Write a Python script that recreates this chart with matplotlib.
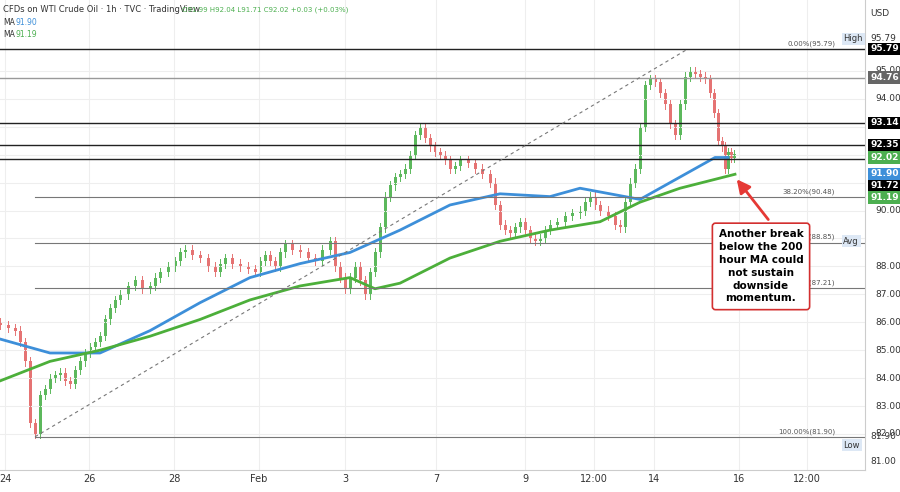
import matplotlib
matplotlib.use("Agg")
import matplotlib.pyplot as plt
import matplotlib.transforms as mtrans

# time positions (chart units) and closing prices
t = [0,8,15,20,25,30,35,40,45,50,55,60,65,70,75,80,85,90,95,100,105,110,115,120,128,135,142,150,155,160,168,175,180,185,192,200,208,215,220,225,232,240,248,255,260,265,270,275,280,285,292,300,308,315,322,330,335,340,345,350,355,360,365,370,375,380,385,390,395,400,405,410,415,420,425,430,435,440,445,450,455,460,468,475,482,490,495,500,505,510,515,520,525,530,535,540,545,550,557,565,572,580,585,590,595,600,608,615,620,625,630,635,640,645,650,655,660,665,670,675,680,685,690,695,700,705,710,714,718,722,725,728,731,734]
close = [85.9,85.8,85.7,85.3,84.6,82.4,82.0,83.4,83.6,84.0,84.1,84.2,83.9,83.8,84.3,84.6,84.9,85.1,85.3,85.5,86.1,86.5,86.8,87.0,87.3,87.5,87.2,87.3,87.6,87.8,88.0,88.2,88.5,88.6,88.4,88.3,88.0,87.8,88.1,88.3,88.1,88.0,87.9,87.8,88.2,88.4,88.2,88.0,88.5,88.8,88.6,88.5,88.3,88.2,88.6,88.9,88.0,87.6,87.2,87.6,88.0,87.5,87.0,87.8,88.5,89.4,90.5,90.9,91.2,91.3,91.5,92.0,92.7,93.0,92.6,92.3,92.1,92.0,91.8,91.5,91.6,91.8,91.7,91.5,91.3,91.0,90.2,89.5,89.3,89.2,89.4,89.6,89.3,89.0,88.9,89.0,89.3,89.5,89.6,89.8,89.9,90.0,90.3,90.5,90.2,90.0,89.8,89.5,89.4,90.3,91.0,91.5,93.0,94.5,94.7,94.6,94.2,93.8,93.1,92.7,93.8,94.8,95.0,94.9,94.8,94.7,94.2,93.5,92.5,92.3,91.5,92.1,91.9,92.02]
ma_t = [0,50,100,150,200,250,300,350,400,450,500,550,580,610,640,660,690,715,728]
ma_fast = [85.4,84.9,84.9,85.7,86.7,87.6,88.1,88.5,89.3,90.2,90.6,90.5,90.8,90.6,90.4,90.8,91.4,91.9,91.9]
ma2_t = [0,50,100,150,200,250,300,350,375,400,450,500,550,600,640,680,735]
ma_slow = [83.9,84.6,85.0,85.5,86.1,86.8,87.3,87.6,87.2,87.4,88.3,88.9,89.3,89.6,90.3,90.8,91.3]
xtick_pos = [5,89,174,259,345,436,525,594,654,739,807]
xtick_lab = ["24","26","28","Feb","3","7","9","12:00","14","16","12:00"]
ytick_vals = [82,83,84,85,86,87,88,89,90,91,92,93,94,95]
ytick_shown = [82,83,84,85,86,87,88,90,94,95]

fig = plt.figure(figsize=(9,4.92), dpi=100)
ax = fig.add_axes([0, 22/492, 865/900, 470/492])
ax.set_xlim(0, 865)
ax.set_ylim(80.71, 97.54)
for s in ax.spines.values():
    s.set_visible(False)
ax.spines['right'].set_visible(True); ax.spines['right'].set_color('#cccccc')
ax.spines['bottom'].set_visible(True); ax.spines['bottom'].set_color('#cccccc')
ax.set_xticks(xtick_pos); ax.set_xticklabels(xtick_lab, fontsize=7, color='#333')
ax.set_yticks(ytick_vals); ax.set_yticklabels([])
ax.tick_params(length=0, pad=3)
ax.grid(color='#eeeeee', lw=0.8)

prev = close[0] + 0.1
for x, c in zip(t, close):
    o = prev
    col = '#5cb85c' if c >= o else '#e57373'
    hi, lo = max(o, c) + 0.15, min(o, c) - 0.15
    ax.plot([x, x], [lo, hi], color=col, lw=0.7)
    ax.bar(x, max(abs(c - o), 0.05), bottom=min(o, c), width=3, color=col, lw=0)
    prev = c

ax.plot(ma_t, ma_fast, color='#3d8fd9', lw=2)
ax.plot(ma2_t, ma_slow, color='#4caf3a', lw=2)

for y, c in [(95.79,'#222'),(94.76,'#999'),(93.14,'#222'),(92.35,'#222'),(91.85,'#222')]:
    ax.axhline(y, color=c, lw=1)
for y, lab in [(90.48,'38.20%(90.48)'),(88.85,'50.00%(88.85)'),(87.21,'61.80%(87.21)'),(81.90,'100.00%(81.90)')]:
    ax.plot([35, 865], [y, y], color='#777', lw=0.8)
    ax.text(835, y+0.08, lab, fontsize=5, color='#555', ha='right', va='bottom')
ax.text(835, 95.87, '0.00%(95.79)', fontsize=5, color='#555', ha='right', va='bottom')
ax.plot([35, 688], [81.9, 95.79], color='#777', lw=0.8, ls=(0,(3,3)))

tr = mtrans.blended_transform_factory(ax.transAxes, ax.transData)
for v in ytick_shown:
    ax.text(1.012, v, f"{v:.2f}", transform=tr, fontsize=6.5, color='#333', va='center', clip_on=False)
for v, lab, bg in [(95.79,'95.79','black'),(94.76,'94.76','#666'),(93.14,'93.14','black'),(92.35,'92.35','black'),
                   (91.90,'92.02','#4caf50'),(91.31,'91.90','#3d8fd9'),(90.88,'91.72','black'),(90.47,'91.19','#4caf50')]:
    ax.text(1.006, v, lab, transform=tr, fontsize=6.5, color='white', va='center', fontweight='bold', clip_on=False,
            bbox=dict(boxstyle='square,pad=0.2', fc=bg, ec='none'))
ax.text(1.006, 96.15, '95.79', transform=tr, fontsize=6.5, color='#333', va='center', clip_on=False)
for yv, lab in [(96.15,'High'),(88.9,'Avg'),(81.6,'Low')]:
    ax.text(0.975, yv, lab, transform=tr, fontsize=6, color='#333', va='center', clip_on=False,
            bbox=dict(boxstyle='square,pad=0.2', fc='#dde8f5', ec='none'))
ax.text(1.006, 81.9, '81.90', transform=tr, fontsize=6.5, color='#333', va='center', clip_on=False)
ax.text(1.006, 81.0, '81.00', transform=tr, fontsize=6.5, color='#333', va='center', clip_on=False)
ax.text(1.006, 97.05, 'USD', transform=tr, fontsize=6.5, color='#333', va='center', clip_on=False)

ax.text(3, 97.2, 'CFDs on WTI Crude Oil · 1h · TVC · TradingView', fontsize=6, color='#333', va='center')
ax.text(182, 97.2, 'O91.99 H92.04 L91.71 C92.02 +0.03 (+0.03%)', fontsize=5, color='#4caf50', va='center')
ax.text(3, 96.75, 'MA', fontsize=5.5, color='#333', va='center')
ax.text(15, 96.75, '91.90', fontsize=5.5, color='#3d8fd9', va='center')
ax.text(3, 96.3, 'MA', fontsize=5.5, color='#333', va='center')
ax.text(15, 96.3, '91.19', fontsize=5.5, color='#4caf50', va='center')

ax.annotate('', xy=(735, 91.2), xytext=(770, 89.6),
            arrowprops=dict(arrowstyle='-|>,head_width=0.4,head_length=0.8', color='#e53935', lw=2))
ax.text(761, 88.0, 'Another break\nbelow the 200\nhour MA could\nnot sustain\ndownside\nmomentum.',
        fontsize=7.5, fontweight='bold', ha='center', va='center', linespacing=1.35,
        bbox=dict(boxstyle='round,pad=0.6,rounding_size=0.3', fc='white', ec='#d32f2f', lw=1.2))

fig.savefig('out.png', dpi=100)
